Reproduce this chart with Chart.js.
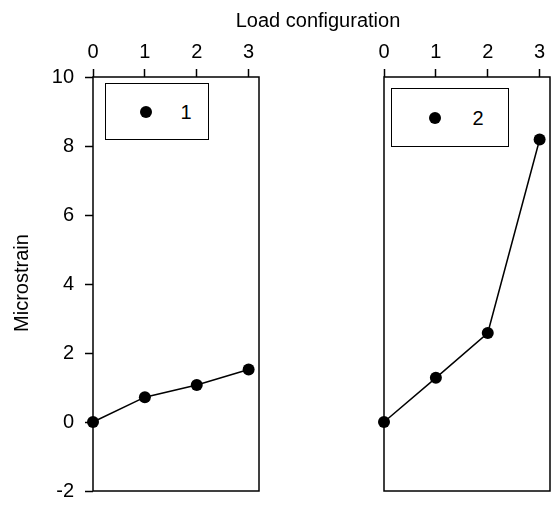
<!DOCTYPE html>
<html>
<head>
<meta charset="utf-8">
<title>Microstrain by load configuration</title>
<script src="https://cdn.jsdelivr.net/npm/chart.js@4.4.1/dist/chart.umd.min.js"></script>
<style>
  html, body { margin: 0; padding: 0; background: #fff; }
  body {
    width: 557px; height: 508px; position: relative; overflow: hidden;
    font-family: "Liberation Sans", Arial, sans-serif; color: #000;
  }
  canvas { position: absolute; top: 0; }
  #chartLeft { left: 0; }
  #chartRight { left: 290px; }
  .axis-title { position: absolute; font-size: 20px; line-height: 24px; white-space: nowrap; text-align: center; }
  #xTitle { left: 218px; top: 8px; width: 200px; }
  #yTitle { left: -79px; top: 271px; width: 200px; height: 24px; transform: rotate(-90deg); }
  .legend-box { position: absolute; box-sizing: border-box; border: 1.5px solid #000; background: #fff; }
  .legend-dot { position: absolute; top: 50%; width: 12px; height: 12px; margin-top: -6px; border-radius: 50%; background: #000; }
  .legend-label { position: absolute; top: 50%; width: 30px; margin-top: -12px; font-size: 20px; line-height: 24px; text-align: center; }
</style>
</head>
<body>
<canvas id="chartLeft" width="290" height="508"></canvas>
<canvas id="chartRight" width="267" height="508"></canvas>
<div id="xTitle" class="axis-title">Load configuration</div>
<div id="yTitle" class="axis-title">Microstrain</div>

<script>
// --- Data ---
const loadConfigs = [0, 1, 2, 3];
const xTicks = [0, 1, 2, 3];
const yTicks = [-2, 0, 2, 4, 6, 8, 10];
const seriesLabels = ['1', '2'];
const strain1 = [0, 0.72, 1.07, 1.52];
const strain2 = [0, 1.28, 2.58, 8.19];

// --- Shared styling ---
Chart.defaults.font.family = '"Liberation Sans", Arial, sans-serif';
Chart.defaults.color = '#000';

// draws the box round each panel
const framePlugin = {
    id: 'frame',
    beforeDatasetsDraw(chart) {
        const { ctx, chartArea: a } = chart;
        ctx.save();
        ctx.strokeStyle = '#000';
        ctx.lineWidth = 1.5;
        ctx.strokeRect(a.left, a.top, a.right - a.left, a.bottom - a.top);
        ctx.restore();
    }
};

function makePanel(canvasId, label, values, showY, yWidth, padding) {
    const points = loadConfigs.map((x, i) => ({ x: x, y: values[i] }));
    return new Chart(document.getElementById(canvasId), {
        type: 'line',
        data: {
            datasets: [{
                label: label,
                data: points,
                borderColor: '#000',
                backgroundColor: '#000',
                borderWidth: 1.5,
                tension: 0,
                pointRadius: 6,
                pointStyle: 'circle',
                pointBackgroundColor: '#000',
                pointBorderWidth: 0,
                clip: false
            }]
        },
        options: {
            responsive: false,
            animation: false,
            layout: { padding: padding },
            plugins: {
                legend: { display: false },
                tooltip: { enabled: false }
            },
            scales: {
                x: {
                    type: 'linear',
                    position: 'top',
                    min: xTicks[0],
                    max: 3.2,
                    afterFit(s) {
                        s.height = 77;
                        s.paddingLeft = 0;
                        s.paddingRight = 0;
                    },
                    afterBuildTicks(s) { s.ticks = xTicks.map(v => ({ value: v })); },
                    ticks: { font: { size: 20 }, padding: 5, maxRotation: 0 },
                    grid: { drawOnChartArea: false, drawTicks: true, tickLength: 8, tickColor: '#000', tickWidth: 1.5 },
                    border: { display: false }
                },
                y: {
                    type: 'linear',
                    display: showY,
                    min: yTicks[0],
                    max: yTicks[yTicks.length - 1],
                    afterFit(s) {
                        s.width = yWidth;
                        s.paddingTop = 0;
                        s.paddingBottom = 0;
                    },
                    afterBuildTicks(s) { s.ticks = yTicks.map(v => ({ value: v })); },
                    ticks: { font: { size: 20 }, padding: 11 },
                    grid: { drawOnChartArea: false, drawTicks: true, tickLength: 8, tickColor: '#000', tickWidth: 1.5 },
                    border: { display: false }
                }
            }
        },
        plugins: [framePlugin]
    });
}

// HTML legend built from the dataset label
function addLegend(chart, box) {
    const ds = chart.data.datasets[0];
    const el = document.createElement('div');
    el.className = 'legend-box';
    el.style.left = box.left + 'px';
    el.style.top = box.top + 'px';
    el.style.width = box.width + 'px';
    el.style.height = box.height + 'px';

    const dot = document.createElement('span');
    dot.className = 'legend-dot';
    dot.style.left = (box.dotX - 6) + 'px';
    dot.style.background = ds.pointBackgroundColor;

    const txt = document.createElement('span');
    txt.className = 'legend-label';
    txt.style.left = (box.textX - 15) + 'px';
    txt.textContent = ds.label;

    el.appendChild(dot);
    el.appendChild(txt);
    document.body.appendChild(el);
}

const leftChart = makePanel('chartLeft', seriesLabels[0], strain1, true, 93, { top: 0, right: 31, bottom: 17, left: 0 });
const rightChart = makePanel('chartRight', seriesLabels[1], strain2, false, 94, { top: 0, right: 7, bottom: 17, left: 0 });

addLegend(leftChart, { left: 105, top: 83, width: 104, height: 57, dotX: 40, textX: 80 });
addLegend(rightChart, { left: 391, top: 88, width: 118, height: 59, dotX: 43, textX: 86 });
</script>
</body>
</html>
